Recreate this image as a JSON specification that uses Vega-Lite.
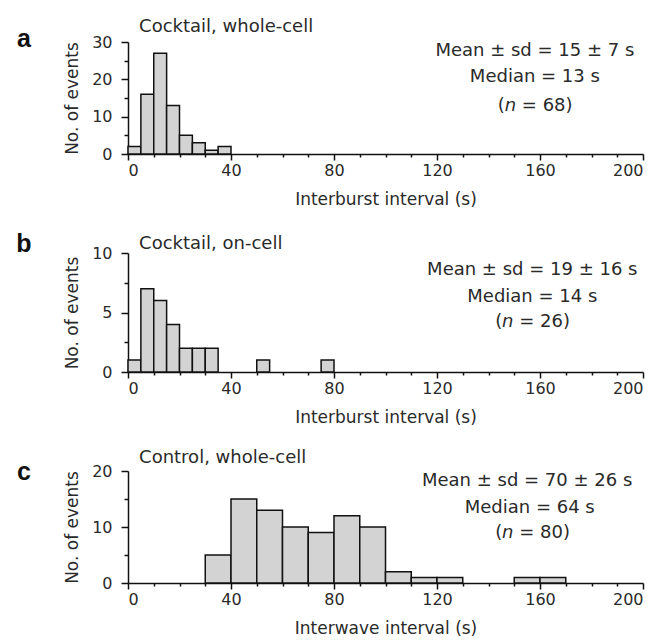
{
  "$schema": "https://vega.github.io/schema/vega-lite/v6.json",
  "background": "white",
  "padding": {"left": 16, "top": 18, "right": 5, "bottom": 3},
  "spacing": 24,
  "config": {
    "view": {"stroke": null},
    "font": "DejaVu Sans",
    "axis": {
      "labelFont": "DejaVu Sans", "labelFontSize": 16, "labelColor": "#2a2a2a",
      "titleFont": "DejaVu Sans", "titleFontSize": 17, "titleFontWeight": "normal", "titleColor": "#2a2a2a",
      "domainColor": "#111", "domainWidth": 1.5, "tickColor": "#111", "tickWidth": 1.5, "grid": false
    },
    "text": {"font": "DejaVu Sans", "fontSize": 18, "color": "#2a2a2a"}
  },
  "datasets": {
    "a": [
      {"start": 0, "end": 5, "count": 2},
      {"start": 5, "end": 10, "count": 16},
      {"start": 10, "end": 15, "count": 27},
      {"start": 15, "end": 20, "count": 13},
      {"start": 20, "end": 25, "count": 5},
      {"start": 25, "end": 30, "count": 3},
      {"start": 30, "end": 35, "count": 1},
      {"start": 35, "end": 40, "count": 2}
    ],
    "b": [
      {"start": 0, "end": 5, "count": 1},
      {"start": 5, "end": 10, "count": 7},
      {"start": 10, "end": 15, "count": 6},
      {"start": 15, "end": 20, "count": 4},
      {"start": 20, "end": 25, "count": 2},
      {"start": 25, "end": 30, "count": 2},
      {"start": 30, "end": 35, "count": 2},
      {"start": 50, "end": 55, "count": 1},
      {"start": 75, "end": 80, "count": 1}
    ],
    "c": [
      {"start": 30, "end": 40, "count": 5},
      {"start": 40, "end": 50, "count": 15},
      {"start": 50, "end": 60, "count": 13},
      {"start": 60, "end": 70, "count": 10},
      {"start": 70, "end": 80, "count": 9},
      {"start": 80, "end": 90, "count": 12},
      {"start": 90, "end": 100, "count": 10},
      {"start": 100, "end": 110, "count": 2},
      {"start": 110, "end": 120, "count": 1},
      {"start": 120, "end": 130, "count": 1},
      {"start": 150, "end": 160, "count": 1},
      {"start": 160, "end": 170, "count": 1}
    ],
    "one": [{}]
  },
  "vconcat": [
    {
      "width": 515, "height": 112,
      "resolve": {"axis": {"x": "independent", "y": "independent"}},
      "layer": [
        {
          "data": {"name": "a"},
          "mark": {"type": "bar", "fill": "#d3d3d3", "stroke": "#111", "strokeWidth": 1.5},
          "encoding": {
            "x": {"field": "start", "type": "quantitative", "scale": {"domain": [0, 200], "nice": false, "zero": false},
                  "axis": {"orient": "bottom", "values": [0, 40, 80, 120, 160, 200], "title": "Interburst interval (s)", "tickSize": 6, "labelPadding": 2, "titlePadding": 13}},
            "x2": {"field": "end"},
            "y": {"field": "count", "type": "quantitative", "scale": {"domain": [0, 30], "nice": false},
                  "axis": {"orient": "left", "values": [0, 10, 20, 30], "title": "No. of events", "tickSize": 7, "labelPadding": 9, "titlePadding": 10}},
            "y2": {"datum": 0}
          }
        },
        {
          "data": {"name": "a"},
          "mark": {"type": "point", "opacity": 0},
          "encoding": {
            "x": {"field": "start", "type": "quantitative",
                  "axis": {"orient": "bottom", "values": [10, 20, 30, 50, 60, 70, 90, 100, 110, 130, 140, 150, 170, 180, 190], "labels": false, "domain": false, "tickSize": 3, "title": null}},
            "y": {"field": "count", "type": "quantitative",
                  "axis": {"orient": "left", "values": [5, 15, 25], "labels": false, "domain": false, "tickSize": 4, "title": null}}
          }
        },
        {
          "data": {"name": "one"},
          "mark": {"type": "text", "align": "left", "baseline": "middle"},
          "encoding": {"x": {"datum": 4.3, "type": "quantitative", "axis": null}, "y": {"datum": 34.0, "type": "quantitative", "axis": null}, "text": {"value": "Cocktail, whole-cell"}}
        },
        {
          "data": {"name": "one"},
          "mark": {"type": "text", "font": "Liberation Sans", "fontWeight": "bold", "fontSize": 25, "color": "#111", "align": "center", "baseline": "alphabetic"},
          "encoding": {"x": {"datum": -40.4, "type": "quantitative", "axis": null}, "y": {"datum": 28.7, "type": "quantitative", "axis": null}, "text": {"value": "a"}}
        },
        {
          "data": {"name": "one"},
          "mark": {"type": "text", "align": "center", "baseline": "middle"},
          "encoding": {"x": {"datum": 158, "type": "quantitative", "axis": null}, "y": {"datum": 27.6, "type": "quantitative", "axis": null}, "text": {"value": "Mean ± sd = 15 ± 7 s"}}
        },
        {
          "data": {"name": "one"},
          "mark": {"type": "text", "align": "center", "baseline": "middle"},
          "encoding": {"x": {"datum": 158, "type": "quantitative", "axis": null}, "y": {"datum": 20.6, "type": "quantitative", "axis": null}, "text": {"value": "Median = 13 s"}}
        },
        {
          "data": {"name": "one"},
          "mark": {"type": "text", "align": "right", "baseline": "middle", "dx": -30},
          "encoding": {"x": {"datum": 158, "type": "quantitative", "axis": null}, "y": {"datum": 12.9, "type": "quantitative", "axis": null}, "text": {"value": "("}}
        },
        {
          "data": {"name": "one"},
          "mark": {"type": "text", "align": "center", "baseline": "middle", "fontStyle": "italic", "dx": -24.5},
          "encoding": {"x": {"datum": 158, "type": "quantitative", "axis": null}, "y": {"datum": 12.9, "type": "quantitative", "axis": null}, "text": {"value": "n"}}
        },
        {
          "data": {"name": "one"},
          "mark": {"type": "text", "align": "left", "baseline": "middle", "dx": -13},
          "encoding": {"x": {"datum": 158, "type": "quantitative", "axis": null}, "y": {"datum": 12.9, "type": "quantitative", "axis": null}, "text": {"value": "= 68)"}}
        }
      ]
    },
    {
      "width": 515, "height": 119,
      "resolve": {"axis": {"x": "independent", "y": "independent"}},
      "layer": [
        {
          "data": {"name": "b"},
          "mark": {"type": "bar", "fill": "#d3d3d3", "stroke": "#111", "strokeWidth": 1.5},
          "encoding": {
            "x": {"field": "start", "type": "quantitative", "scale": {"domain": [0, 200], "nice": false, "zero": false},
                  "axis": {"orient": "bottom", "values": [0, 40, 80, 120, 160, 200], "title": "Interburst interval (s)", "tickSize": 6, "labelPadding": 2, "titlePadding": 13}},
            "x2": {"field": "end"},
            "y": {"field": "count", "type": "quantitative", "scale": {"domain": [0, 10], "nice": false},
                  "axis": {"orient": "left", "values": [0, 5, 10], "title": "No. of events", "tickSize": 7, "labelPadding": 9, "titlePadding": 10}},
            "y2": {"datum": 0}
          }
        },
        {
          "data": {"name": "b"},
          "mark": {"type": "point", "opacity": 0},
          "encoding": {
            "x": {"field": "start", "type": "quantitative",
                  "axis": {"orient": "bottom", "values": [10, 20, 30, 50, 60, 70, 90, 100, 110, 130, 140, 150, 170, 180, 190], "labels": false, "domain": false, "tickSize": 3, "title": null}},
            "y": {"field": "count", "type": "quantitative",
                  "axis": {"orient": "left", "values": [2.5, 7.5], "labels": false, "domain": false, "tickSize": 4, "title": null}}
          }
        },
        {
          "data": {"name": "one"},
          "mark": {"type": "text", "align": "left", "baseline": "middle"},
          "encoding": {"x": {"datum": 4.3, "type": "quantitative", "axis": null}, "y": {"datum": 10.76, "type": "quantitative", "axis": null}, "text": {"value": "Cocktail, on-cell"}}
        },
        {
          "data": {"name": "one"},
          "mark": {"type": "text", "font": "Liberation Sans", "fontWeight": "bold", "fontSize": 25, "color": "#111", "align": "center", "baseline": "alphabetic"},
          "encoding": {"x": {"datum": -40.4, "type": "quantitative", "axis": null}, "y": {"datum": 10.1, "type": "quantitative", "axis": null}, "text": {"value": "b"}}
        },
        {
          "data": {"name": "one"},
          "mark": {"type": "text", "align": "center", "baseline": "middle"},
          "encoding": {"x": {"datum": 157, "type": "quantitative", "axis": null}, "y": {"datum": 8.57, "type": "quantitative", "axis": null}, "text": {"value": "Mean ± sd = 19 ± 16 s"}}
        },
        {
          "data": {"name": "one"},
          "mark": {"type": "text", "align": "center", "baseline": "middle"},
          "encoding": {"x": {"datum": 157, "type": "quantitative", "axis": null}, "y": {"datum": 6.3, "type": "quantitative", "axis": null}, "text": {"value": "Median = 14 s"}}
        },
        {
          "data": {"name": "one"},
          "mark": {"type": "text", "align": "right", "baseline": "middle", "dx": -30},
          "encoding": {"x": {"datum": 157, "type": "quantitative", "axis": null}, "y": {"datum": 4.2, "type": "quantitative", "axis": null}, "text": {"value": "("}}
        },
        {
          "data": {"name": "one"},
          "mark": {"type": "text", "align": "center", "baseline": "middle", "fontStyle": "italic", "dx": -24.5},
          "encoding": {"x": {"datum": 157, "type": "quantitative", "axis": null}, "y": {"datum": 4.2, "type": "quantitative", "axis": null}, "text": {"value": "n"}}
        },
        {
          "data": {"name": "one"},
          "mark": {"type": "text", "align": "left", "baseline": "middle", "dx": -13},
          "encoding": {"x": {"datum": 157, "type": "quantitative", "axis": null}, "y": {"datum": 4.2, "type": "quantitative", "axis": null}, "text": {"value": "= 26)"}}
        }
      ]
    },
    {
      "width": 515, "height": 112,
      "resolve": {"axis": {"x": "independent", "y": "independent"}},
      "layer": [
        {
          "data": {"name": "c"},
          "mark": {"type": "bar", "fill": "#d3d3d3", "stroke": "#111", "strokeWidth": 1.5},
          "encoding": {
            "x": {"field": "start", "type": "quantitative", "scale": {"domain": [0, 200], "nice": false, "zero": false},
                  "axis": {"orient": "bottom", "values": [0, 40, 80, 120, 160, 200], "title": "Interwave interval (s)", "tickSize": 6, "labelPadding": 2, "titlePadding": 13}},
            "x2": {"field": "end"},
            "y": {"field": "count", "type": "quantitative", "scale": {"domain": [0, 20], "nice": false},
                  "axis": {"orient": "left", "values": [0, 10, 20], "title": "No. of events", "tickSize": 7, "labelPadding": 9, "titlePadding": 10}},
            "y2": {"datum": 0}
          }
        },
        {
          "data": {"name": "c"},
          "mark": {"type": "point", "opacity": 0},
          "encoding": {
            "x": {"field": "start", "type": "quantitative",
                  "axis": {"orient": "bottom", "values": [10, 20, 30, 50, 60, 70, 90, 100, 110, 130, 140, 150, 170, 180, 190], "labels": false, "domain": false, "tickSize": 3, "title": null}},
            "y": {"field": "count", "type": "quantitative",
                  "axis": {"orient": "left", "values": [5, 15], "labels": false, "domain": false, "tickSize": 4, "title": null}}
          }
        },
        {
          "data": {"name": "one"},
          "mark": {"type": "text", "align": "left", "baseline": "middle"},
          "encoding": {"x": {"datum": 4.3, "type": "quantitative", "axis": null}, "y": {"datum": 22.3, "type": "quantitative", "axis": null}, "text": {"value": "Control, whole-cell"}}
        },
        {
          "data": {"name": "one"},
          "mark": {"type": "text", "font": "Liberation Sans", "fontWeight": "bold", "fontSize": 25, "color": "#111", "align": "center", "baseline": "alphabetic"},
          "encoding": {"x": {"datum": -40.4, "type": "quantitative", "axis": null}, "y": {"datum": 18.4, "type": "quantitative", "axis": null}, "text": {"value": "c"}}
        },
        {
          "data": {"name": "one"},
          "mark": {"type": "text", "align": "center", "baseline": "middle"},
          "encoding": {"x": {"datum": 155, "type": "quantitative", "axis": null}, "y": {"datum": 18.2, "type": "quantitative", "axis": null}, "text": {"value": "Mean ± sd = 70 ± 26 s"}}
        },
        {
          "data": {"name": "one"},
          "mark": {"type": "text", "align": "center", "baseline": "middle"},
          "encoding": {"x": {"datum": 156, "type": "quantitative", "axis": null}, "y": {"datum": 13.4, "type": "quantitative", "axis": null}, "text": {"value": "Median = 64 s"}}
        },
        {
          "data": {"name": "one"},
          "mark": {"type": "text", "align": "right", "baseline": "middle", "dx": -30},
          "encoding": {"x": {"datum": 157, "type": "quantitative", "axis": null}, "y": {"datum": 8.9, "type": "quantitative", "axis": null}, "text": {"value": "("}}
        },
        {
          "data": {"name": "one"},
          "mark": {"type": "text", "align": "center", "baseline": "middle", "fontStyle": "italic", "dx": -24.5},
          "encoding": {"x": {"datum": 157, "type": "quantitative", "axis": null}, "y": {"datum": 8.9, "type": "quantitative", "axis": null}, "text": {"value": "n"}}
        },
        {
          "data": {"name": "one"},
          "mark": {"type": "text", "align": "left", "baseline": "middle", "dx": -13},
          "encoding": {"x": {"datum": 157, "type": "quantitative", "axis": null}, "y": {"datum": 8.9, "type": "quantitative", "axis": null}, "text": {"value": "= 80)"}}
        }
      ]
    }
  ]
}
